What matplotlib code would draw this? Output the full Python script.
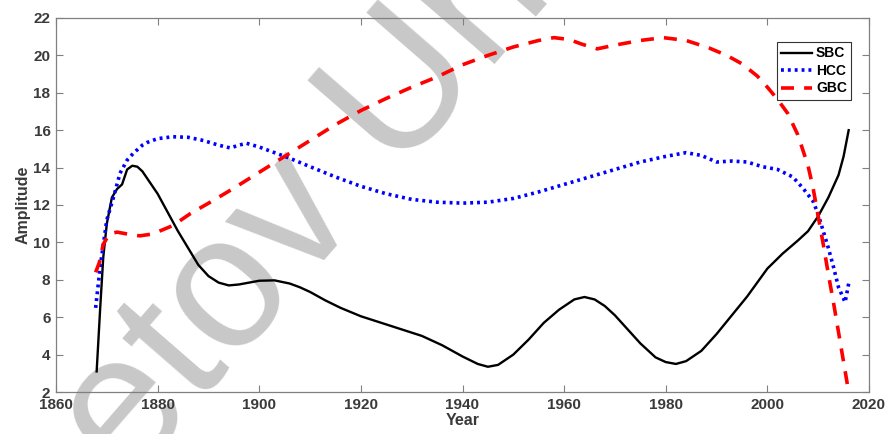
import matplotlib
matplotlib.use('Agg')
import matplotlib.pyplot as plt

plt.rcParams.update({
    'font.family': ['Liberation Sans', 'DejaVu Sans'],
    'font.weight': 'bold',
    'font.size': 10,
})

# --- data ---
sbc_year = [1868, 1868.7, 1869.3, 1870, 1871, 1872, 1873, 1874, 1875, 1876, 1877, 1878,
            1880, 1882, 1884, 1886, 1888, 1890, 1892, 1894, 1896, 1898, 1900, 1903, 1906,
            1908, 1910, 1913, 1916, 1920, 1924, 1928, 1932, 1936, 1940, 1943, 1945, 1947,
            1950, 1953, 1956, 1959, 1962, 1964, 1966, 1968, 1970, 1972, 1975, 1978, 1980,
            1982, 1984, 1987, 1990, 1993, 1996, 2000, 2003, 2006, 2008, 2010, 2012, 2014,
            2015, 2016]
sbc_amp = [3.1, 6.5, 9.2, 11.0, 12.4, 12.85, 13.1, 13.9, 14.1, 14.05, 13.8, 13.4,
           12.6, 11.6, 10.6, 9.7, 8.8, 8.2, 7.85, 7.7, 7.75, 7.85, 7.95, 7.97, 7.8,
           7.6, 7.35, 6.9, 6.5, 6.05, 5.7, 5.35, 5.0, 4.5, 3.9, 3.5, 3.35, 3.45,
           4.0, 4.8, 5.7, 6.4, 6.95, 7.08, 6.95, 6.6, 6.1, 5.5, 4.6, 3.85, 3.6,
           3.5, 3.65, 4.2, 5.1, 6.1, 7.1, 8.6, 9.4, 10.1, 10.6, 11.4, 12.4, 13.6,
           14.6, 16.0]

hcc_year = [1867.8, 1868.7, 1870, 1871.3, 1872.6, 1874, 1875.2, 1877, 1878, 1880, 1883,
            1886, 1889, 1892, 1894.3, 1896, 1897.5, 1900, 1903, 1906, 1910, 1915, 1920,
            1925, 1930, 1935, 1940, 1945, 1950, 1955, 1960, 1965, 1970, 1975, 1980, 1984,
            1987, 1990, 1993, 1996, 1999, 2002, 2005, 2007, 2009, 2010, 2011, 2012, 2013,
            2014, 2015.3, 2016]
hcc_amp = [6.5, 8.7, 11.2, 12.4, 13.7, 14.4, 14.76, 15.2, 15.35, 15.55, 15.65,
           15.62, 15.45, 15.2, 15.05, 15.2, 15.3, 15.1, 14.8, 14.5, 14.05, 13.5, 13.0,
           12.6, 12.3, 12.15, 12.1, 12.15, 12.35, 12.7, 13.1, 13.5, 13.9, 14.3, 14.6, 14.8,
           14.65, 14.3, 14.35, 14.3, 14.05, 13.9, 13.5, 12.9, 12.2, 11.5, 10.6, 9.7, 8.7,
           7.6, 6.8, 7.8]

gbc_year = [1867.8, 1868.5, 1869.3, 1870.5, 1872, 1874, 1876.5, 1879, 1883, 1886.5, 1891,
            1895, 1900, 1905, 1910, 1915, 1920, 1925, 1930, 1935, 1940, 1945, 1950, 1955,
            1958, 1961, 1963.5, 1966.5, 1970, 1975, 1979.5, 1984, 1988.5, 1992, 1995, 1998,
            2000, 2002, 2004, 2006, 2008, 2009, 2010, 2011, 2012, 2013, 2014, 2015, 2016]
gbc_amp = [8.4, 8.9, 9.9, 10.45, 10.55, 10.45, 10.35, 10.45, 10.9, 11.55, 12.25,
           12.9, 13.75, 14.6, 15.45, 16.3, 17.05, 17.7, 18.3, 18.85, 19.5, 20.0, 20.45, 20.8,
           20.95, 20.85, 20.6, 20.35, 20.55, 20.8, 20.95, 20.8, 20.4, 20.0, 19.55, 18.9,
           18.3, 17.65, 16.9, 15.75, 14.1, 12.9, 11.4, 9.9, 8.3, 6.8, 5.2, 3.6, 2.0]

fig = plt.figure(figsize=(8.88, 4.34), dpi=100)
ax = fig.add_axes([56 / 888, 1 - 392 / 434, 813 / 888, 374 / 434])
ax.set_facecolor('none')

# watermark, drawn behind the axes content
fig.text(128 / 888, 1 - 486 / 434, 'etov Uni', rotation=49, rotation_mode='anchor',
         ha='left', va='baseline', fontsize=136, fontweight='normal',
         color='#c8c8c8', zorder=-1)

ax.plot(sbc_year, sbc_amp, color='black', lw=1.7, label='SBC')
ax.plot(hcc_year, hcc_amp, color='blue', lw=2.6, linestyle=(0, (0.8, 1.1)), label='HCC')
ax.plot(gbc_year, gbc_amp, color='red', lw=2.6, linestyle=(0, (3.6, 2.8)), label='GBC')

ax.set_xlim(1860, 2020)
ax.set_ylim(2, 22)
ax.set_xticks(range(1860, 2021, 20))
ax.set_yticks(range(2, 23, 2))
ax.tick_params(direction='in', top=True, right=True, length=5, width=0.8,
               colors='#808080', labelcolor='#3a3a3a', labelsize=11)
ax.tick_params(axis='x', pad=4)
ax.tick_params(axis='y', pad=4)
for s in ax.spines.values():
    s.set_color('#808080')
    s.set_linewidth(0.9)

ax.set_xlabel('Year', fontsize=11.5, fontweight='bold', color='#3a3a3a', labelpad=1)
ax.set_ylabel('Amplitude', fontsize=11.5, fontweight='bold', color='#3a3a3a', labelpad=2)

leg = ax.legend(loc='upper right', bbox_to_anchor=(0.978, 0.935), fontsize=10,
                frameon=True, fancybox=False, edgecolor='#333333', framealpha=1,
                handlelength=2.2, handletextpad=0.3, borderpad=0.3, labelspacing=0.25,
                borderaxespad=0)
leg.get_frame().set_linewidth(0.8)

fig.savefig('out.png', dpi=100)
